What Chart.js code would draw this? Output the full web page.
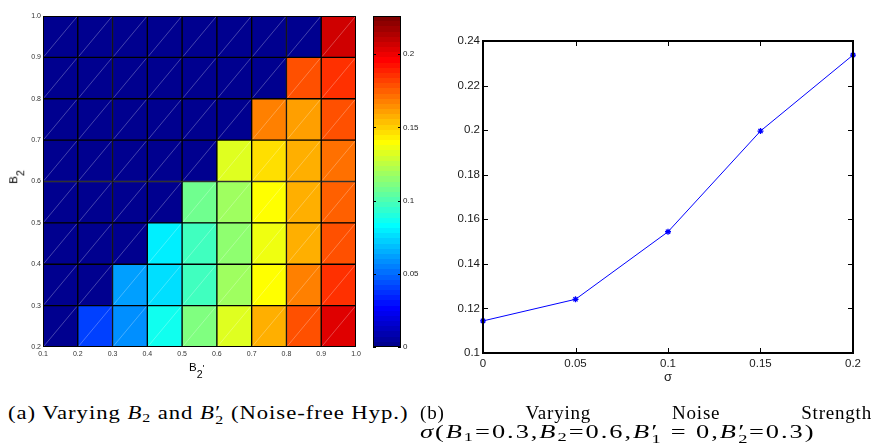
<!DOCTYPE html>
<html>
<head>
<meta charset="utf-8">
<script src="https://cdn.jsdelivr.net/npm/chart.js@4.4.1/dist/chart.umd.min.js"></script>
<style>
  html,body{margin:0;padding:0;background:#fff;}
  body{width:874px;height:448px;overflow:hidden;position:relative;font-family:"Liberation Sans",Arial,sans-serif;}
  canvas{position:absolute;}
  #heat{left:0;top:0;}
  #cbar{left:364px;top:0;}
  #line{left:420px;top:0;}
  .ax{position:absolute;font-family:"Liberation Sans",Arial,sans-serif;font-size:11.5px;line-height:1;color:#000;white-space:nowrap;}
  .ax .s{position:relative;top:0.62em;font-size:0.92em;}
  .ax .p{position:relative;top:0;font-size:0.8em;}
  #ytitle{left:14px;top:177px;transform:translate(-50%,-50%) rotate(-90deg);}
  #xtitle{left:189px;top:362px;}
  .cap{position:absolute;font-family:"Liberation Serif","Times New Roman",serif;font-size:19px;line-height:19px;white-space:nowrap;color:#000;transform-origin:0 0;}
  .cap i{font-style:italic;}
  .sb{font-size:0.7em;position:relative;top:0.2em;}
  .ps{position:relative;display:inline-block;width:0.42em;height:0;}
  .ps .p{position:absolute;left:0.02em;top:-0.86em;line-height:1;}
  .ps .s{position:absolute;left:0.02em;top:-0.42em;font-size:0.7em;line-height:1;}
  #capB1{display:flex;justify-content:space-between;width:452px;letter-spacing:0.8px;}
</style>
</head>
<body>
<canvas id="heat" width="364" height="385"></canvas>
<canvas id="cbar" width="76" height="385"></canvas>
<canvas id="line" width="454" height="395"></canvas>

<div class="ax" id="ytitle">B<span class="s">2</span></div>
<div class="ax" id="xtitle">B<span class="s">2</span><span class="p">'</span></div>

<div class="cap" id="capA" style="left:8px;top:403px">(a) Varying <i>B</i><span class="sb">2</span> and <i>B</i><span class="ps"><span class="p">′</span><span class="s">2</span></span> (Noise-free Hyp.)</div>
<div class="cap" id="capB1" style="left:420px;top:403px"><span>(b)</span><span>Varying</span><span>Noise</span><span>Strength</span></div>
<div class="cap" id="capB2" style="left:420px;top:422px"><i>σ</i>(<i>B</i><span class="sb">1</span>=0.3,<i>B</i><span class="sb">2</span>=0.6,<i>B</i><span class="ps"><span class="p">′</span><span class="s">1</span></span> = 0,<i>B</i><span class="ps"><span class="p">′</span><span class="s">2</span></span>=0.3)</div>

<script>
// ================= DATA =================
// Heat map (a): cell edges
const b2pEdges = [0.1, 0.2, 0.3, 0.4, 0.5, 0.6, 0.7, 0.8, 0.9, 1.0]; // B2' (x)
const b2Edges  = [0.2, 0.3, 0.4, 0.5, 0.6, 0.7, 0.8, 0.9, 1.0];      // B2  (y)
// cell values, one array per B2 row (bottom to top), columns B2' = 0.1 .. 0.9
const heatRow_B2_02 = [0, 0.040, 0.059, 0.085, 0.111, 0.134, 0.156, 0.178, 0.202];
const heatRow_B2_03 = [0, 0,     0.061, 0.075, 0.096, 0.118, 0.141, 0.167, 0.186];
const heatRow_B2_04 = [0, 0,     0,     0.079, 0.096, 0.116, 0.136, 0.158, 0.180];
const heatRow_B2_05 = [0, 0,     0,     0,     0.109, 0.120, 0.138, 0.156, 0.176];
const heatRow_B2_06 = [0, 0,     0,     0,     0,     0.134, 0.145, 0.158, 0.173];
const heatRow_B2_07 = [0, 0,     0,     0,     0,     0,     0.167, 0.162, 0.180];
const heatRow_B2_08 = [0, 0,     0,     0,     0,     0,     0,     0.180, 0.187];
const heatRow_B2_09 = [0, 0,     0,     0,     0,     0,     0,     0,     0.205];
const heatXTicks = [0.1, 0.2, 0.3, 0.4, 0.5, 0.6, 0.7, 0.8, 0.9, 1.0];
const heatYTicks = [0.2, 0.3, 0.4, 0.5, 0.6, 0.7, 0.8, 0.9, 1.0];
// Colour bar
const cbarMin = 0;
const cbarMax = 0.226;
const cbarTicks = [0, 0.05, 0.1, 0.15, 0.2];
// Line chart (b)
const sigmaValues = [0, 0.05, 0.1, 0.15, 0.2];
const noiseError  = [0.1144, 0.1241, 0.1544, 0.1996, 0.2337];
const lineXTicks = [0, 0.05, 0.1, 0.15, 0.2];
const lineYTicks = [0.1, 0.12, 0.14, 0.16, 0.18, 0.2, 0.22, 0.24];

const heatRows = [heatRow_B2_02, heatRow_B2_03, heatRow_B2_04, heatRow_B2_05,
                  heatRow_B2_06, heatRow_B2_07, heatRow_B2_08, heatRow_B2_09];

// ================= HELPERS =================
function clamp01(v){ return Math.max(0, Math.min(1, v)); }
// MATLAB jet(64)
function jetCss(t){
  const idx = Math.min(63, Math.max(0, Math.floor(t * 64)));
  const q = (idx + 1) / 64;
  const r = clamp01(Math.min(4*q - 1.5, -4*q + 4.5));
  const g = clamp01(Math.min(4*q - 0.5, -4*q + 3.5));
  const b = clamp01(Math.min(4*q + 0.5, -4*q + 2.5));
  return `rgb(${Math.round(r*255)},${Math.round(g*255)},${Math.round(b*255)})`;
}
const fmt = v => String(+(+v).toFixed(2));
const setTicks = arr => s => { s.ticks = arr.map(v => ({ value: v })); };

Chart.defaults.font.family = '"Liberation Sans", Arial, sans-serif';
Chart.defaults.animation = false;
Chart.defaults.plugins.legend.display = false;
Chart.defaults.plugins.tooltip.enabled = false;

// ================= HEAT MAP =================
const heatDatasets = heatRows.map((row, r) => ({
  data: row.map((v, c) => ({ x: (b2pEdges[c] + b2pEdges[c+1]) / 2, y: [b2Edges[r], b2Edges[r+1]], v })),
  backgroundColor: ctx => (ctx.raw ? jetCss(ctx.raw.v / cbarMax) : 'rgba(0,0,0,0)'),
  borderColor: '#000',
  borderWidth: 1,
  borderSkipped: false,
  barPercentage: 1,
  categoryPercentage: 1,
  grouped: false
}));

const heatDecor = {
  id: 'heatDecor',
  afterDatasetsDraw(chart){
    const c = chart.ctx;
    c.save();
    c.strokeStyle = 'rgba(255,255,255,0.45)';
    c.lineWidth = 0.6;
    chart.data.datasets.forEach((ds, i) => {
      chart.getDatasetMeta(i).data.forEach(el => {
        const p = el.getProps(['x','y','base','width'], true);
        c.beginPath();
        c.moveTo(p.x - p.width/2 + 1, p.base - 1);
        c.lineTo(p.x + p.width/2 - 1, p.y + 1);
        c.stroke();
      });
    });
    const a = chart.chartArea;
    c.strokeStyle = '#000';
    c.lineWidth = 1;
    c.strokeRect(a.left + 0.5, a.top + 0.5, a.right - a.left - 1, a.bottom - a.top - 1);
    c.restore();
  }
};

new Chart(document.getElementById('heat'), {
  type: 'bar',
  data: { datasets: heatDatasets },
  options: {
    responsive: false,
    devicePixelRatio: 1,
    layout: { padding: { left: 0, right: 8, top: 16, bottom: 0 } },
    scales: {
      x: {
        type: 'linear', min: 0.1, max: 1.0, offset: false,
        afterBuildTicks: setTicks(heatXTicks),
        afterFit: s => { s.height = 38; },
        grid: { display: false, drawTicks: false },
        border: { display: false },
        ticks: { callback: v => (+v).toFixed(1), font: { size: 7 }, color: '#333', padding: 3, maxRotation: 0, autoSkip: false }
      },
      y: {
        type: 'linear', min: 0.2, max: 1.0,
        afterBuildTicks: setTicks(heatYTicks),
        afterFit: s => { s.width = 43; },
        grid: { display: false, drawTicks: false },
        border: { display: false },
        ticks: { callback: v => (+v).toFixed(1), font: { size: 7 }, color: '#333', padding: 2, autoSkip: false }
      }
    }
  },
  plugins: [heatDecor]
});

// ================= COLOUR BAR =================
const cbarDecor = {
  id: 'cbarDecor',
  afterDatasetsDraw(chart){
    const c = chart.ctx, a = chart.chartArea, ys = chart.scales.y;
    c.save();
    c.strokeStyle = '#000';
    c.lineWidth = 1;
    ys.ticks.forEach(t => {
      const py = Math.round(ys.getPixelForValue(t.value)) + 0.5;
      c.beginPath();
      c.moveTo(a.left, py); c.lineTo(a.left + 3, py);
      c.moveTo(a.right - 3, py); c.lineTo(a.right, py);
      c.stroke();
    });
    c.strokeRect(a.left + 0.5, a.top + 0.5, a.right - a.left - 1, a.bottom - a.top - 1);
    c.restore();
  }
};

new Chart(document.getElementById('cbar'), {
  type: 'bar',
  data: {
    labels: ['jet'],
    datasets: [{
      data: [[cbarMin, cbarMax]],
      backgroundColor: ctx => {
        const ch = ctx.chart, ys = ch.scales.y;
        if (!ch.chartArea || !ys) return '#00008f';
        const y0 = ys.getPixelForValue(cbarMin), y1 = ys.getPixelForValue(cbarMax);
        const g = ch.ctx.createLinearGradient(0, y0, 0, y1);
        for (let i = 0; i < 64; i++) {
          const col = jetCss((i + 0.5) / 64);
          g.addColorStop(i / 64, col);
          g.addColorStop((i + 1) / 64, col);
        }
        return g;
      },
      borderWidth: 0,
      barPercentage: 1,
      categoryPercentage: 1
    }]
  },
  options: {
    responsive: false,
    devicePixelRatio: 1,
    layout: { padding: { left: 9, right: 0, top: 16, bottom: 38 } },
    scales: {
      x: { display: false },
      y: {
        position: 'right', min: cbarMin, max: cbarMax,
        afterBuildTicks: setTicks(cbarTicks),
        afterFit: s => { s.width = 39; },
        grid: { display: false, drawTicks: false },
        border: { display: false },
        ticks: { callback: fmt, font: { size: 8 }, color: '#222', padding: 2, autoSkip: false }
      }
    }
  },
  plugins: [cbarDecor]
});

// ================= LINE CHART =================
const matlabFrame = {
  id: 'matlabFrame',
  afterDraw(chart){
    const c = chart.ctx, a = chart.chartArea, xs = chart.scales.x, ys = chart.scales.y;
    c.save();
    c.strokeStyle = '#000';
    c.lineWidth = 1;
    const L = 5;
    xs.ticks.forEach(t => {
      const px = Math.round(xs.getPixelForValue(t.value)) + 0.5;
      c.beginPath();
      c.moveTo(px, a.bottom); c.lineTo(px, a.bottom - L);
      c.moveTo(px, a.top); c.lineTo(px, a.top + L);
      c.stroke();
    });
    ys.ticks.forEach(t => {
      const py = Math.round(ys.getPixelForValue(t.value)) + 0.5;
      c.beginPath();
      c.moveTo(a.left, py); c.lineTo(a.left + L, py);
      c.moveTo(a.right, py); c.lineTo(a.right - L, py);
      c.stroke();
    });
    c.lineWidth = 2;
    c.strokeRect(a.left, a.top, a.right - a.left, a.bottom - a.top);
    c.restore();
  }
};

new Chart(document.getElementById('line'), {
  type: 'line',
  data: {
    datasets: [{
      data: sigmaValues.map((x, i) => ({ x, y: noiseError[i] })),
      borderColor: '#0000ff',
      borderWidth: 1,
      pointStyle: 'star',
      pointRadius: 3,
      pointBorderColor: '#0000ff',
      pointBackgroundColor: '#0000ff',
      pointBorderWidth: 1.3,
      tension: 0,
      clip: false
    }]
  },
  options: {
    responsive: false,
    devicePixelRatio: 1,
    layout: { padding: { left: 0, right: 21, top: 41, bottom: 0 } },
    scales: {
      x: {
        type: 'linear', min: 0, max: 0.2,
        afterBuildTicks: setTicks(lineXTicks),
        afterFit: s => { s.height = 42; },
        grid: { display: false, drawTicks: false },
        border: { display: false },
        ticks: { callback: fmt, font: { size: 11.5 }, color: '#1a1a1a', padding: 4, maxRotation: 0, autoSkip: false },
        title: { display: true, text: 'σ', font: { size: 13 }, color: '#1a1a1a', padding: { top: 0, bottom: 10 } }
      },
      y: {
        type: 'linear', min: 0.1, max: 0.24,
        afterBuildTicks: setTicks(lineYTicks),
        afterFit: s => { s.width = 63; },
        grid: { display: false, drawTicks: false },
        border: { display: false },
        ticks: { callback: fmt, font: { size: 11.5 }, color: '#1a1a1a', padding: 3, autoSkip: false }
      }
    }
  },
  plugins: [matlabFrame]
});

// ================= CAPTION FITTING =================
function fitWidth(id, target, ls){
  const el = document.getElementById(id);
  el.style.letterSpacing = ls + 'px';
  const w = el.scrollWidth;
  if (w > 0) el.style.transform = `scaleX(${target / w})`;
}
fitWidth('capA', 400, 0.8);
fitWidth('capB2', 395, 1.4);
</script>
</body>
</html>
